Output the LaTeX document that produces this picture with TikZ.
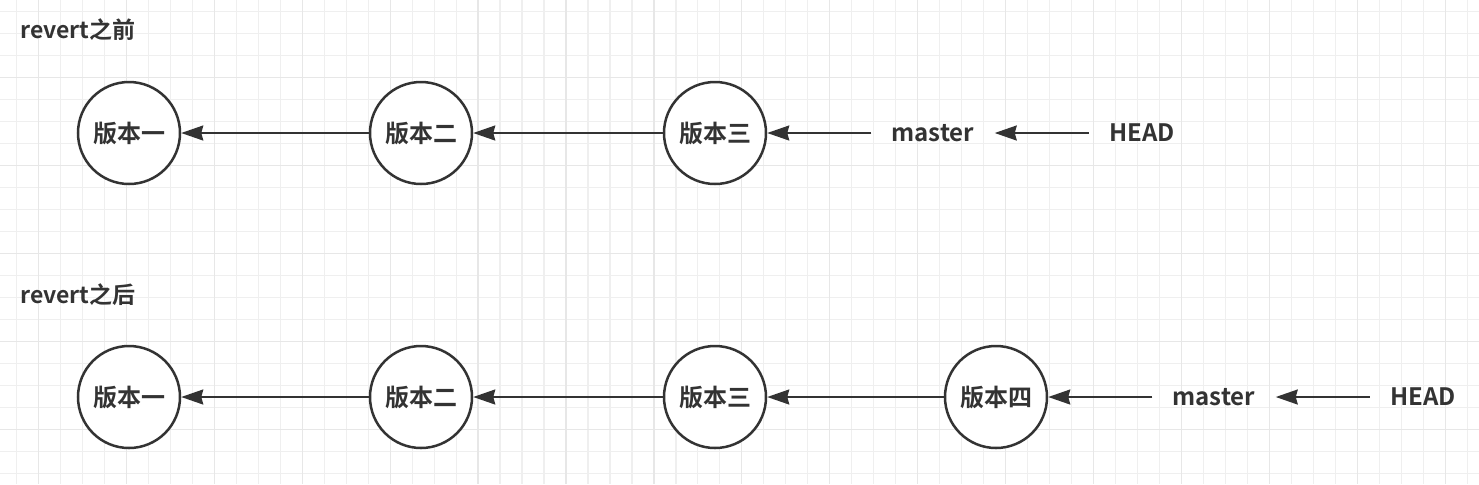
\documentclass[tikz,border=0pt]{standalone}
\usepackage{fontspec}
\setmainfont{Noto Sans CJK SC}[BoldFont={Noto Sans CJK SC Bold}]
\usetikzlibrary{arrows.meta}

\definecolor{inkgray}{HTML}{333333}
\definecolor{gridminor}{HTML}{EFEFEF}
\definecolor{gridmajor}{HTML}{E7E7E7}

\tikzset{
  version/.style={circle, draw=inkgray, line width=1.25pt, fill=white,
    minimum size=51pt, inner sep=0pt, text=inkgray,
    font=\fontsize{12}{14}\selectfont\bfseries},
  pointer/.style={inner xsep=10pt, inner ysep=2pt, text=inkgray,
    font=\fontsize{12}{14}\selectfont\bfseries},
  caption/.style={anchor=west, inner sep=0pt, text=inkgray,
    font=\fontsize{11.5}{13}\selectfont\bfseries},
  link/.style={draw=inkgray, line width=1pt,
    -{Stealth[length=11pt,width=7.5pt,inset=1pt]}},
}

\begin{document}
\begin{tikzpicture}[x=0.5pt, y=-0.5pt]
  \useasboundingbox (0,0) rectangle (1479,484);
  \fill[white] (0,0) rectangle (1479,484);

  % background grid
  \foreach \i in {0,...,66}
    \draw[gridminor, line width=0.6pt] ({16.5+21.98*\i},0) -- ({16.5+21.98*\i},484);
  \foreach \j in {0,...,21}
    \draw[gridminor, line width=0.6pt] (0,{11.7+22*\j}) -- (1479,{11.7+22*\j});
  \foreach \i in {1,5,...,65}
    \draw[gridmajor, line width=0.6pt] ({16.5+21.98*\i},0) -- ({16.5+21.98*\i},484);
  \foreach \j in {3,7,...,19}
    \draw[gridmajor, line width=0.6pt] (0,{11.7+22*\j}) -- (1479,{11.7+22*\j});

  % before revert
  \node[caption] (before) at (20,30) {revert之前};
  \node[version] (a1) at (129,133) {版本一};
  \node[version] (a2) at (421,133) {版本二};
  \node[version] (a3) at (715,133) {版本三};
  \node[pointer] (amaster) at (933,133) {master};
  \node[pointer] (ahead) at (1142,133) {HEAD};
  \draw[link] (a2) -- (a1);
  \draw[link] (a3) -- (a2);
  \draw[link] (amaster) -- (a3);
  \draw[link] (ahead) -- (amaster);

  % after revert
  \node[caption] (after) at (20,295) {revert之后};
  \node[version] (b1) at (129,397) {版本一};
  \node[version] (b2) at (421,397) {版本二};
  \node[version] (b3) at (715,397) {版本三};
  \node[version] (b4) at (996,397) {版本四};
  \node[pointer] (bmaster) at (1214,397) {master};
  \node[pointer] (bhead) at (1423,397) {HEAD};
  \draw[link] (b2) -- (b1);
  \draw[link] (b3) -- (b2);
  \draw[link] (b4) -- (b3);
  \draw[link] (bmaster) -- (b4);
  \draw[link] (bhead) -- (bmaster);
\end{tikzpicture}
\end{document}
